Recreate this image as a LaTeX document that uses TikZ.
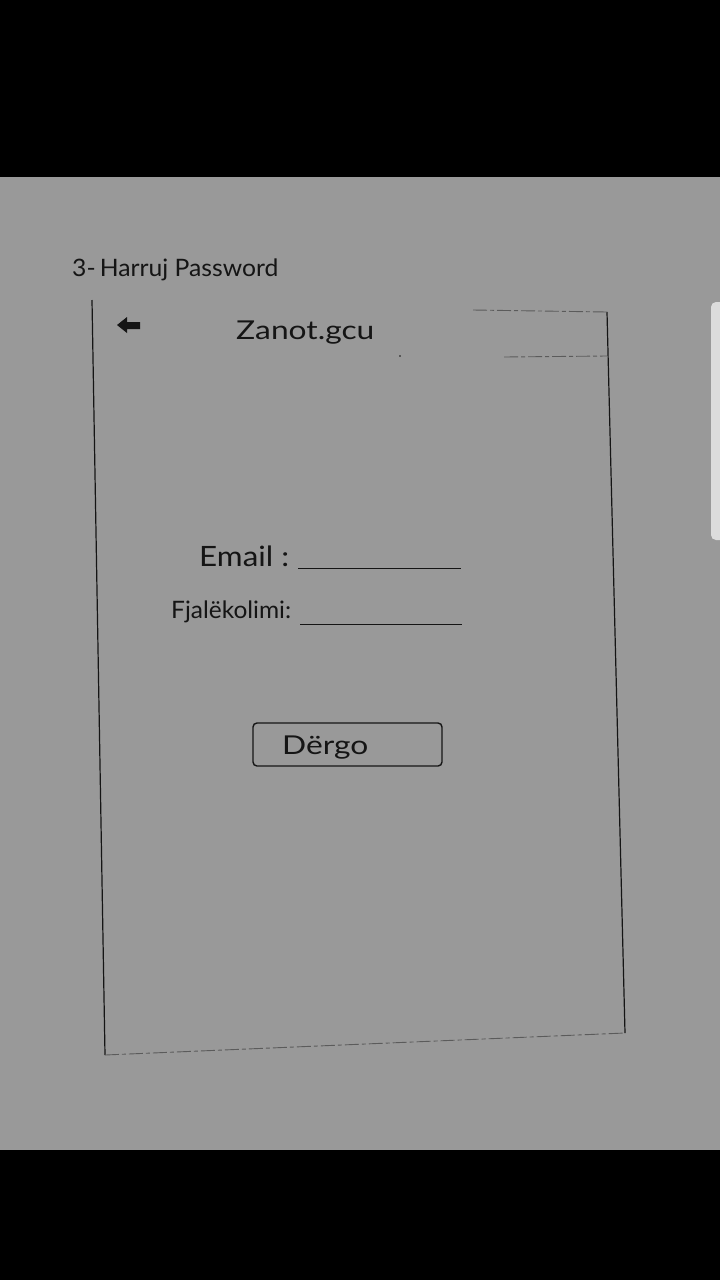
\documentclass[tikz,border=0pt]{standalone}
\usepackage{fontspec}
\setmainfont{Lato}
\definecolor{paper}{HTML}{999999}
\definecolor{ink}{HTML}{151515}
\definecolor{barc}{HTML}{DCDCDC}
\tikzset{
  pen/.style={draw=ink, line width=1.2pt},
  faint/.style={draw=ink!70, line width=0.9pt, dash pattern=on 14pt off 3pt on 4pt off 3pt},
  hand/.style={text=ink, inner sep=0pt, anchor=west},
  btn/.style={draw=ink, line width=1.4pt, rounded corners=4pt, minimum width=189pt, minimum height=43pt, inner sep=0pt},
}
\begin{document}
\begin{tikzpicture}[x=1pt,y=-1pt]
\useasboundingbox (0,0) rectangle (720,1280);
\fill[black] (0,0) rectangle (720,177);
\fill[paper] (0,177) rectangle (720,1150);
\fill[black] (0,1150) rectangle (720,1280);
% scrollbar
\fill[barc, rounded corners=5pt] (711,302) rectangle (726,540);
% title
\node[hand, font=\fontsize{24}{26}\selectfont, xscale=1.03] (title) at (72,270) {3-\,Harruj Password};
% phone frame
\coordinate (tl) at (92,300);
\coordinate (bl) at (105,1055);
\coordinate (br) at (625,1033);
\coordinate (tr) at (607,312);
\coordinate (tm) at (473,310);
\draw[pen] (tl) -- (bl);
\draw[faint] (bl) -- (br);
\draw[pen] (br) -- (tr);
\draw[faint] (tm) -- (tr);
\coordinate (sepa) at (504,357);
\coordinate (sepb) at (607,356);
\draw[faint] (sepa) -- (sepb);
\fill[ink] (400,356) circle (0.8);
% back arrow
\fill[ink] (117,325) -- (127,317) -- (127,322) -- (140,322) -- (140,329) -- (127,329) -- (127,333) -- cycle;
\node[hand, font=\fontsize{26}{28}\selectfont, xscale=1.22] (head) at (236,333) {Zanot.gcu};
% fields
\node[hand, font=\fontsize{28}{30}\selectfont, xscale=1.12] (email) at (199,556) {Email :};
\coordinate (e1) at (298,568);
\coordinate (e2) at (461,568);
\draw[pen, line width=1pt] (e1) -- (e2);
\node[hand, font=\fontsize{24}{26}\selectfont, xscale=1.02] (pw) at (171,612) {Fjalëkolimi:};
\coordinate (p1) at (300,624);
\coordinate (p2) at (462,624);
\draw[pen, line width=1pt] (p1) -- (p2);
% button
\node[btn] (send) at (347.5,744.5) {};
\node[hand, font=\fontsize{26}{28}\selectfont, xscale=1.22] (sendt) at (282,748) {Dërgo};
\end{tikzpicture}
\end{document}
